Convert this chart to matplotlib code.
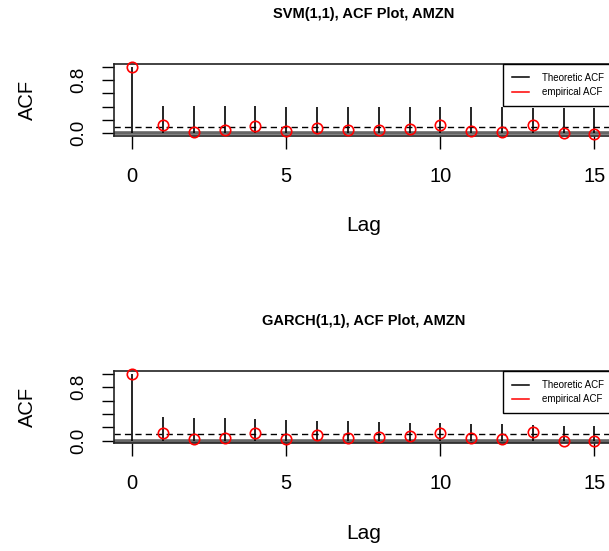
import numpy as np
import matplotlib
matplotlib.use("Agg")
import matplotlib.pyplot as plt
from matplotlib.lines import Line2D

plt.rcParams['font.family'] = ['Liberation Sans', 'DejaVu Sans']

# lags and ACF values
lags = np.arange(0, 16)
theo_svm = [1.0, 0.415, 0.41, 0.41, 0.41, 0.40, 0.40, 0.40, 0.40, 0.395,
            0.39, 0.39, 0.39, 0.385, 0.385, 0.375]
theo_garch = [1.0, 0.36, 0.345, 0.335, 0.32, 0.31, 0.30, 0.29, 0.28, 0.27,
              0.26, 0.25, 0.245, 0.235, 0.225, 0.22]
emp_acf = [1.0, 0.12, 0.02, 0.045, 0.11, 0.03, 0.08, 0.045, 0.05, 0.07,
           0.12, 0.04, 0.02, 0.125, 0.0, -0.01]
conf_band = 0.10

titles = ["SVM(1,1), ACF Plot, AMZN", "GARCH(1,1), ACF Plot, AMZN"]
theo_list = [theo_svm, theo_garch]

W, H = 609, 551
fig = plt.figure(figsize=(W / 100, H / 100), dpi=100)

# axes boxes in pixels (left, top, right, bottom); right edge runs past the image
boxes = [(113.8, 64.0, 612.8, 136.0), (113.8, 371.3, 612.8, 443.4)]

for box, title, theo in zip(boxes, titles, theo_list):
    l, t, r, b = box
    ax = fig.add_axes([l / W, 1 - b / H, (r - l) / W, (b - t) / H])

    ax.axhline(0, color='0.4', lw=2.6, zorder=1)
    ax.axhline(conf_band, color='black', lw=1.0, linestyle=(0, (4.5, 3)), zorder=2)
    ax.vlines(lags, 0, theo, color='black', lw=1.2, zorder=3)
    ax.plot(lags, emp_acf, 'o', mfc='none', mec='red', ms=7.5, mew=1.2,
            zorder=4, clip_on=False)

    ax.set_xlim(-0.6, 15.6)
    ax.set_ylim(-0.04, 1.04)
    ax.set_xticks([0, 5, 10, 15])
    ax.set_yticks([0.0, 0.2, 0.4, 0.6, 0.8, 1.0])
    ax.set_yticklabels(['0.0', '', '', '', '0.8', ''])
    ax.tick_params(axis='both', direction='out', length=9, width=1.0,
                   labelsize=14.5, color='black')
    ax.tick_params(axis='x', pad=13)
    ax.tick_params(axis='y', pad=10)
    for lbl in ax.get_yticklabels():
        lbl.set_rotation(90)
        lbl.set_va('center')
        lbl.set_fontsize(13.5)

    for sp in ax.spines.values():
        sp.set_color('#222222')
        sp.set_linewidth(1.2)

    ax.set_xlabel("Lag", fontsize=15, labelpad=22)
    ax.set_ylabel("ACF", fontsize=14.5, labelpad=24)
    ax.set_title(title, fontsize=10.5, fontweight='bold', pad=33)

    handles = [Line2D([], [], color='black', lw=1.1),
               Line2D([], [], color='red', lw=1.1)]
    ax.legend(handles, ["Theoretic ACF", "empirical ACF"], loc='upper right',
              bbox_to_anchor=(1.0, 1.0), borderaxespad=0.0, fontsize=7,
              frameon=True, fancybox=False, edgecolor='black', framealpha=1,
              handlelength=1.8, handletextpad=1.3, borderpad=0.9,
              labelspacing=0.45).get_frame().set_linewidth(1.0)

fig.savefig("out.png", dpi=100)
